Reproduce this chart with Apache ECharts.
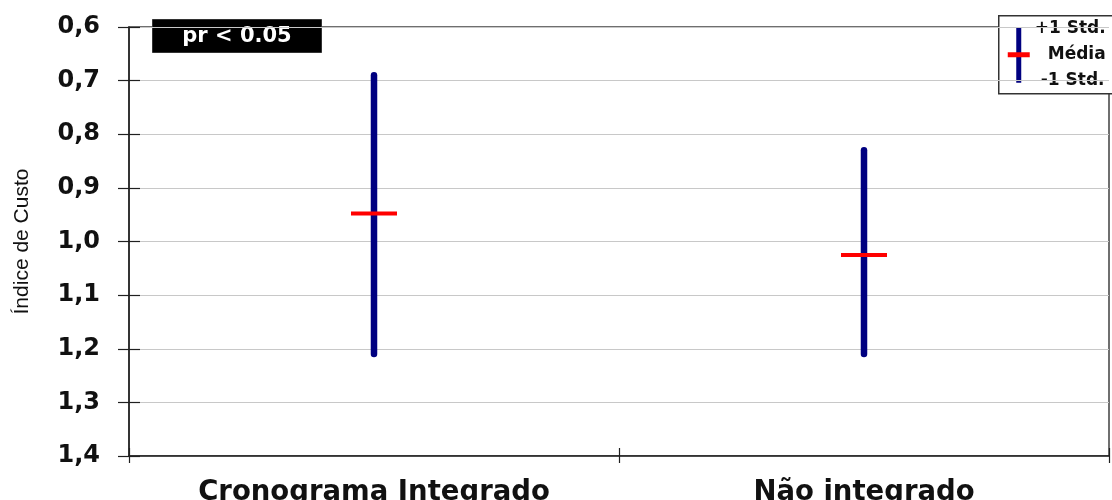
<!DOCTYPE html>
<html>
<head>
<meta charset="utf-8">
<script src="https://cdn.jsdelivr.net/npm/echarts@6/dist/echarts.min.js"></script>
<style>
html,body{margin:0;padding:0;background:#fff;}
#chart{width:1112px;height:500px;}
</style>
</head>
<body>
<div id="chart"></div>
<script>
// ---- data ----
var categories = ['Cronograma Integrado', 'Não integrado'];
var plusStd = [0.69, 0.83];     // +1 Std. (top of bar)
var means = [0.948, 1.025];     // Média
var minusStd = [1.21, 1.21];    // -1 Std. (bottom of bar)
var yMin = 0.6, yMax = 1.4, yStep = 0.1;
var axisName = 'Índice de Custo';
var noteText = 'pr < 0.05';
var legendLabels = ['+1 Std.', 'Média', '-1 Std.'];

var seriesData = categories.map(function (c, i) {
  return [i, plusStd[i], means[i], minusStd[i]];
});

var chart = echarts.init(document.getElementById('chart'), null, {renderer: 'canvas'});
var FONT = '"DejaVu Sans", sans-serif';

function fmt(v) { return v.toFixed(1).replace('.', ','); }

var option = {
  animation: false,
  backgroundColor: '#fff',
  grid: {left: 129, right: 3, top: 27, bottom: 44, show: true, borderColor: '#404040', borderWidth: 1.5,
         backgroundColor: 'transparent', containLabel: false, outerBoundsMode: 'none'},
  xAxis: [{
    type: 'category', data: categories, boundaryGap: true,
    axisLine: {show: true, lineStyle: {color: '#202020', width: 1.5}},
    axisTick: {show: true, length: 7, lineStyle: {color: '#202020', width: 1.2}},
    axisLabel: {margin: 23, color: '#111', fontFamily: FONT, fontWeight: 'bold', fontSize: 27.5},
    splitLine: {show: false}
  }, {
    type: 'category', data: categories, boundaryGap: true, position: 'bottom',
    axisLine: {show: false},
    axisTick: {show: true, inside: true, length: 8, lineStyle: {color: '#202020', width: 1.2}},
    axisLabel: {show: false}, splitLine: {show: false}
  }],
  yAxis: [{
    type: 'value', inverse: true, min: yMin, max: yMax, interval: yStep,
    name: axisName, nameLocation: 'middle', nameGap: 96, nameRotate: 90,
    nameTextStyle: {fontFamily: '"Liberation Sans", Arial, sans-serif', fontSize: 21, color: '#111'},
    axisLine: {show: true, lineStyle: {color: '#202020', width: 1.5}},
    axisTick: {show: true, length: 11, lineStyle: {color: '#202020', width: 1.2}},
    axisLabel: {margin: 29, formatter: fmt, color: '#111', fontFamily: FONT, fontWeight: 'bold', fontSize: 24},
    splitLine: {show: true, lineStyle: {color: '#c8c8c8', width: 1.2}}
  }, {
    type: 'value', inverse: true, min: yMin, max: yMax, interval: yStep, position: 'left',
    axisLine: {show: false},
    axisTick: {show: true, inside: true, length: 11, lineStyle: {color: '#202020', width: 1.2}},
    axisLabel: {show: false}, splitLine: {show: false}
  }],
  series: [{
    type: 'custom',
    xAxisIndex: 0, yAxisIndex: 0,
    data: seriesData,
    encode: {x: 0, y: [1, 2, 3]},
    renderItem: function (params, api) {
      var x = api.value(0);
      var top = api.coord([x, api.value(1)]);
      var mid = api.coord([x, api.value(2)]);
      var bot = api.coord([x, api.value(3)]);
      return {
        type: 'group',
        children: [{
          type: 'line',
          shape: {x1: top[0], y1: top[1], x2: bot[0], y2: bot[1]},
          style: {stroke: '#000080', lineWidth: 6.5, lineCap: 'round'}
        }, {
          type: 'line',
          shape: {x1: mid[0] - 23, y1: mid[1], x2: mid[0] + 23, y2: mid[1]},
          style: {stroke: '#ff0000', lineWidth: 4}
        }]
      };
    }
  }],
  graphic: [{
    type: 'group', left: 152, top: 19, z: 100,
    children: [{
      type: 'rect', shape: {x: 0, y: 0, width: 169, height: 33},
      style: {fill: '#000', stroke: '#333', lineWidth: 1}
    }, {
      type: 'text', x: 84.5, y: 17,
      style: {text: noteText, fill: '#fff', font: 'bold 21px ' + FONT, align: 'center', verticalAlign: 'middle'}
    }]
  }, {
    type: 'group', left: 998, top: 15, z: 100,
    children: [{
      type: 'rect', shape: {x: 0, y: 0, width: 140, height: 78},
      style: {fill: '#fff', stroke: '#333', lineWidth: 1.5}
    }, {
      type: 'line', shape: {x1: 20, y1: 12, x2: 20, y2: 67},
      style: {stroke: '#000080', lineWidth: 5}
    }, {
      type: 'line', shape: {x1: 9, y1: 39, x2: 31, y2: 39},
      style: {stroke: '#ff0000', lineWidth: 5}
    }, {
      type: 'text', x: 36, y: 13,
      style: {text: legendLabels[0], fill: '#111', font: 'bold 17px ' + FONT, verticalAlign: 'middle'}
    }, {
      type: 'text', x: 49, y: 39,
      style: {text: legendLabels[1], fill: '#111', font: 'bold 17px ' + FONT, verticalAlign: 'middle'}
    }, {
      type: 'text', x: 42, y: 65,
      style: {text: legendLabels[2], fill: '#111', font: 'bold 17px ' + FONT, verticalAlign: 'middle'}
    }]
  }]
};
chart.setOption(option);
</script>
</body>
</html>
